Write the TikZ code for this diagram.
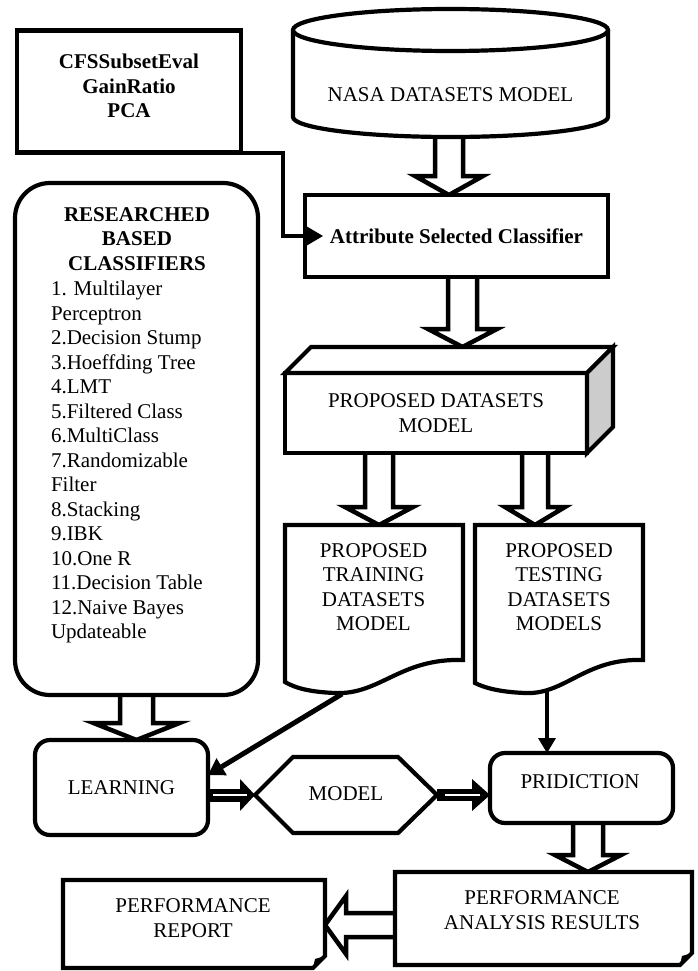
\documentclass[tikz,border=0pt]{standalone}
\usepackage{fontspec}
\setmainfont{Liberation Serif}
\usetikzlibrary{calc,arrows.meta,backgrounds}
\newcommand\dfs{\fontsize{21pt}{24.5pt}\selectfont}
\newcommand\blkdown[5]{\draw[hol] let \p1=(#1), \p2=(#2) in (\x1-#3,\y1) -- (\x1-#3,\y2+#5) -- (\x1-#4,\y2+#5) -- (\x1,\y2) -- (\x1+#4,\y2+#5) -- (\x1+#3,\y2+#5) -- (\x1+#3,\y1);}
\newcommand\blkleft[5]{\draw[hol] let \p1=(#1), \p2=(#2) in (\x1,\y1+#3) -- (\x2+#5,\y1+#3) -- (\x2+#5,\y1+#4) -- (\x2,\y1) -- (\x2+#5,\y1-#4) -- (\x2+#5,\y1-#3) -- (\x1,\y1-#3);}
\tikzset{
  every node/.style={font=\dfs, inner sep=0pt, outer sep=0pt},
  box/.style={draw, line width=4.2pt, fill=white, rectangle},
  hol/.style={draw, line width=4.5pt, fill=white},
  shp/.style={draw, line width=4.2pt, fill=white},
}
\begin{document}
\begin{tikzpicture}[x=1pt,y=-1pt]
\useasboundingbox (0,0) rectangle (698,971);
% CFS box
\node[box, minimum width=224pt, minimum height=122pt] (cfs) at (129,91.5) {};
\node[font=\dfs\bfseries, align=center] (cfstext) at (129,86) {CFSSubsetEval\\GainRatio\\PCA};
% cylinder
\draw[shp] (293,30) -- (293,117) arc[start angle=180, end angle=360, x radius=157.5pt, y radius=20pt] -- (608,30);
\draw[shp] (450.5,30) ellipse [x radius=157.5pt, y radius=21pt];
\node (nasa) at (450.5,95) {NASA DATASETS MODEL};
\coordinate (nasabot) at (449,136);
% attribute selected classifier
\node[box, minimum width=303pt, minimum height=82pt, font=\dfs\bfseries] (att) at (456.5,236) {Attribute Selected Classifier};
% proposed datasets model (3D box)
\node[box, minimum width=302pt, minimum height=80pt, align=center] (pdm) at (436,413) {PROPOSED DATASETS\\MODEL};
\draw[shp] (pdm.north west) -- ++(26,-26) -- ($(pdm.north east)+(26,-26)$) -- (pdm.north east) -- cycle;
\draw[shp, fill=gray!40] (pdm.north east) -- ++(26,-26) -- ($(pdm.south east)+(26,-26)$) -- (pdm.south east) -- cycle;
% researched based classifiers
\node[box, rounded corners=35pt, minimum width=243pt, minimum height=512pt] (res) at (136.5,439) {};
\node[font=\dfs\bfseries, align=center] (reshead) at (137,239) {RESEARCHED\\BASED\\CLASSIFIERS};
\node[align=left, anchor=north west] (reslist) at (51,281) {1. Multilayer\\Perceptron\\2.Decision Stump\\3.Hoeffding Tree\\4.LMT\\5.Filtered Class\\6.MultiClass\\7.Randomizable\\Filter\\8.Stacking\\9.IBK\\10.One R\\11.Decision Table\\12.Naive Bayes\\Updateable};
% documents
\draw[shp] (285,525) -- (463,525) -- (463,660) .. controls (400,658) and (380,695) .. (335,693) .. controls (310,692) and (295,688) .. (285,682) -- cycle;
\node[align=center] (train) at (373.5,587) {PROPOSED\\TRAINING\\DATASETS\\MODEL};
\draw[shp] (475,525) -- (643,525) -- (643,660) .. controls (585,658) and (565,695) .. (525,693) .. controls (500,692) and (485,688) .. (475,683) -- cycle;
\node[align=center] (test) at (559,587) {PROPOSED\\TESTING\\DATASETS\\MODELS};
\coordinate (trtop) at (379,525);
\coordinate (tetop) at (535,525);
\coordinate (trbot) at (342,694);
\coordinate (tebot) at (547,690);
% learning
\node[box, rounded corners=15pt, minimum width=173pt, minimum height=95pt] (learn) at (121.5,787.5) {LEARNING};
% model hexagon
\coordinate (mdlL) at (255,795);
\coordinate (mdlR) at (437,795);
\draw[shp] (mdlL) -- (293,757) -- (398,757) -- (mdlR) -- (398,833) -- (293,833) -- cycle;
\node (model) at (346,794) {MODEL};
% prediction
\node[box, rounded corners=15pt, minimum width=183pt, minimum height=70pt] (pred) at (581.5,788) {};
\node (predtext) at (580,781.5) {PRIDICTION};
% performance analysis results
\node[minimum width=297pt, minimum height=93pt] (anal) at (543.5,918.5) {};
\draw[shp] (anal.north west) -- (anal.north east) -- ($(anal.south east)+(0,-12)$) -- ($(anal.south east)+(-12,0)$) -- (anal.south west) -- cycle;
\fill ($(anal.south east)+(0,-12)$) -- ($(anal.south east)+(-10,-9)$) -- ($(anal.south east)+(-12,0)$) -- cycle;
\node[align=center] (analtext) at (542,910) {PERFORMANCE\\ANALYSIS RESULTS};
% performance report
\node[minimum width=262pt, minimum height=88pt] (report) at (194,924) {};
\draw[shp] (report.north west) -- (report.north east) -- ($(report.south east)+(0,-12)$) -- ($(report.south east)+(-12,0)$) -- (report.south west) -- cycle;
\fill ($(report.south east)+(0,-12)$) -- ($(report.south east)+(-10,-9)$) -- ($(report.south east)+(-12,0)$) -- cycle;
\node[align=center] (reporttext) at (193,918) {PERFORMANCE\\REPORT};
% hollow block arrows behind the shapes
\begin{scope}[on background layer]
\blkdown{nasabot}{att.north}{14pt}{34pt}{19pt}
\blkdown{$(att.south)+(6,0)$}{$(pdm.north)+(0,-26)$}{14.5pt}{34.5pt}{18pt}
\blkdown{$(pdm.south)+(-57,0)$}{trtop}{14pt}{34pt}{18pt}
\blkdown{$(pdm.south)+(99,0)$}{tetop}{13pt}{30pt}{18pt}
\blkdown{res.south}{learn.north}{16.5pt}{43pt}{17pt}
\blkdown{$(pred.south)+(6.5,0)$}{anal.north}{15pt}{33pt}{17pt}
\blkleft{$(anal.west)+(0,6.5)$}{report.east}{12pt}{29pt}{21pt}
\end{scope}
% line connectors
\draw[line width=4pt, -{Triangle[length=17pt,width=20pt,line width=0pt]}] (cfs.south east) -- ++(42,0) |- ($(att.west)+(18,0)$);
\draw[line width=5pt, -{Triangle[length=16pt,width=20pt,line width=0pt]}] (trbot) -- ($(learn.north east)+(0,35)$);
\draw[line width=4pt, -{Triangle[length=15pt,width=18pt,line width=0pt]}] (tebot) -- (tebot |- pred.north);
\draw[line width=13pt, -{Triangle[length=15pt,width=32pt,line width=0pt]}] (learn.east |- mdlL) -- (mdlL);
\draw[white, line width=2.2pt] ($(learn.east |- mdlL)+(5,0)$) -- ($(mdlL)+(-8,0)$);
\draw[line width=12pt, -{Triangle[length=18pt,width=32pt,line width=0pt]}] (mdlR) -- (mdlR -| pred.west);
\draw[white, line width=2.2pt] ($(mdlR)+(8,0)$) -- ($(mdlR -| pred.west)+(-10,0)$);
\end{tikzpicture}
\end{document}
